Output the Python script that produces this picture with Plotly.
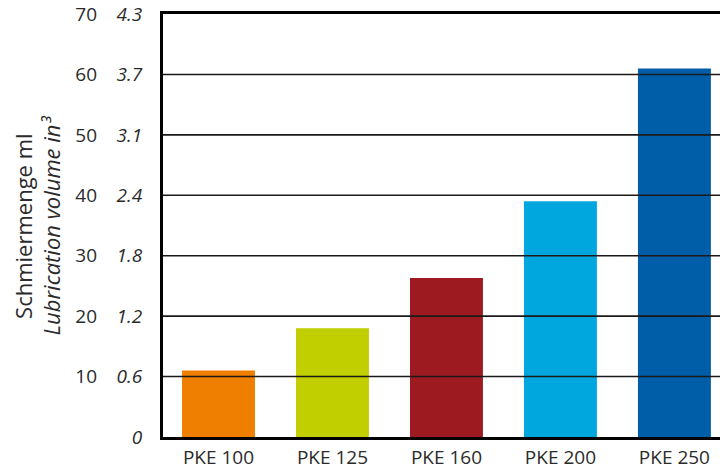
import plotly.graph_objects as go

# data
models = ["PKE 100", "PKE 125", "PKE 160", "PKE 200", "PKE 250"]
volume_ml = [11, 18, 26.3, 39, 61]
bar_colors = ["#EF7F00", "#C1CF00", "#9D1A21", "#00A7DF", "#005DA8"]

ml_ticks = [0, 10, 20, 30, 40, 50, 60, 70]
ml_labels = ["", "10", "20", "30", "40", "50", "60", "70"]
in3_labels = ["0", "0.6", "1.2", "1.8", "2.4", "3.1", "3.7", "4.3"]

W, H = 720, 468
plot_left = 163
font = "Open Sans, sans-serif"
text_color = "#2b2b2b"

fig = go.Figure()

fig.add_trace(go.Bar(
    x=models,
    y=volume_ml,
    marker=dict(color=bar_colors, line=dict(width=0)),
    width=0.64,
    showlegend=False,
))

# invisible trace to carry the secondary (ml) tick column
fig.add_trace(go.Scatter(
    x=[models[0]], y=[0], yaxis="y2", mode="markers",
    marker=dict(opacity=0), showlegend=False, hoverinfo="skip",
))

# gridlines sit on top of the bars in the reference
for v in ml_ticks[1:-1]:
    fig.add_shape(
        type="line", xref="x domain", yref="y",
        x0=0, x1=1, y0=v, y1=v,
        line=dict(color="#1a1a1a", width=1.6),
        layer="above",
    )

fig.update_layout(
    width=W, height=H,
    margin=dict(l=0, r=0, t=14, b=31, autoexpand=False),
    plot_bgcolor="white",
    paper_bgcolor="white",
    font=dict(family=font, size=19, color=text_color),
    xaxis=dict(
        domain=[plot_left / W, 1],
        range=[-0.487, 4.40],
        showline=True, linecolor="black", linewidth=3, mirror=True,
        showgrid=False, ticks="", ticklabelstandoff=1,
        automargin=False,
    ),
    yaxis=dict(
        range=[0, 70],
        tickvals=ml_ticks,
        ticktext=[f"<i>{t}</i>" for t in in3_labels],
        showline=True, linecolor="black", linewidth=3,
        showgrid=False, zeroline=False, ticks="",
        ticklabelstandoff=14, automargin=False,
    ),
    yaxis2=dict(
        range=[0, 70],
        overlaying="y",
        anchor="free",
        position=103 / W,
        side="left",
        tickvals=ml_ticks,
        ticktext=ml_labels,
        showline=False, showgrid=False, zeroline=False, ticks="",
        ticklabelstandoff=6, automargin=False,
    ),
    annotations=[dict(
        text="Schmiermenge ml<br><i>Lubrication volume in³</i>",
        xref="paper", yref="paper",
        x=37 / W, y=0.5, xanchor="center", yanchor="middle",
        textangle=-90, showarrow=False,
        font=dict(family=font, size=22, color=text_color),
    )],
)

fig.write_html(
    "out.html",
    config={"displayModeBar": False},
    post_script="document.body.style.margin='0';",
)
